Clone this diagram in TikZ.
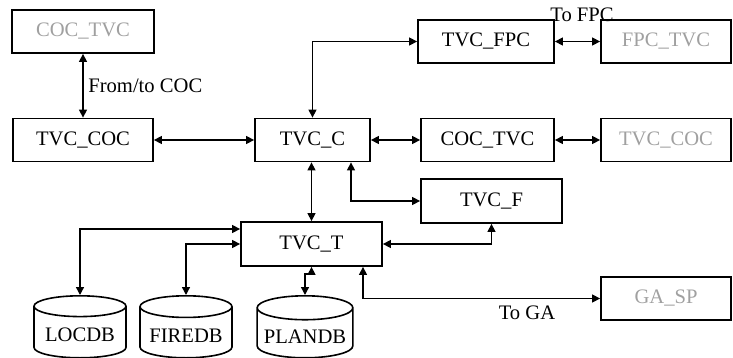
\documentclass[tikz,border=0pt]{standalone}
\usepackage{fontspec}
\setmainfont{Liberation Serif}
\usetikzlibrary{arrows.meta,shapes.geometric,positioning}
\definecolor{ghost}{RGB}{160,160,160}
\tikzstyle{block} =
  [rectangle, draw, line width=0.9pt, inner sep=0pt,
   text centered, minimum height=21.5pt]
\tikzstyle{remote} = [block, text=ghost]
\tikzstyle{store} =
  [cylinder, shape border rotate=90, draw, line width=0.8pt,
   minimum width=46pt, minimum height=31pt, aspect=0.25]
\tikzstyle{link}=[draw,{Triangle[length=4pt,width=4pt]}-{Triangle[length=4pt,width=4pt]},line width=0.7pt]

\begin{document}
\begin{tikzpicture}[x=0.5pt, y=-0.5pt, font=\fontsize{10.3}{12}\selectfont]
  \useasboundingbox (0,0) rectangle (733,358);
  \node [remote, minimum width=71pt] (cocA) at (83,31.5) {COC\_TVC};
  \node [block, minimum width=70pt] (tvccoc) at (83,140) {TVC\_COC};
  \node [block, minimum width=57.5pt] (tvcc) at (312.5,140) {TVC\_C};
  \node [block, minimum width=68pt] (tvcfpc) at (486,41.5) {TVC\_FPC};
  \node [remote, minimum width=65pt] (fpctvc) at (666,41.5) {FPC\_TVC};
  \node [block, minimum width=66.5pt] (coctvc) at (487.5,140) {COC\_TVC};
  \node [remote, minimum width=65pt] (tvccocB) at (666,140) {TVC\_COC};
  \node [block, minimum width=70.5pt, minimum height=22pt] (tvcf) at (491.5,201) {TVC\_F};
  \node [block, minimum width=70.5pt, minimum height=22pt] (tvct) at (311.5,244) {TVC\_T};
  \node [remote, minimum width=65pt] (gasp) at (666,298.5) {GA\_SP};
  \node [store, anchor=north] (locdb) at (80,295) {LOCDB};
  \node [store, anchor=north] (firedb) at (186,295) {FIREDB};
  \node [store, anchor=north] (plandb) at (305,295) {PLANDB};

  \coordinate (cf) at (351,201);
  \coordinate (tg) at (363,298);
  \coordinate (tl) at (241,229);

  \draw [link] (cocA) to node [right, xshift=-1pt] {From/to COC} (tvccoc);
  \draw [link] (tvccoc) to (tvcc);
  \draw [link] (tvcc.north) |- (tvcfpc.west);
  \draw [link] (tvcfpc) to (fpctvc);
  \draw [link] (tvcc) to (coctvc);
  \draw [link] (coctvc) to (tvccocB);
  \draw [link] (tvct.north) to (tvct.north |- tvcc.south);
  \draw [link] (tvcc.south -| cf) |- (tvcf.west);
  \draw [link] (tvct.east) -| (tvcf.south);
  \draw [link] (tvct.south -| tg) |- (gasp.west);
  \draw [link] (tvct.west |- tl) -| (locdb.north);
  \draw [link] (tvct.west) -| (firedb.north);
  \draw [link] (tvct.south) -- ++(0,7) -| (plandb.north);

  \node (tofpc) at (582,15) {To FPC};
  \node (toga) at (527,313) {To GA};
\end{tikzpicture}
\end{document}
